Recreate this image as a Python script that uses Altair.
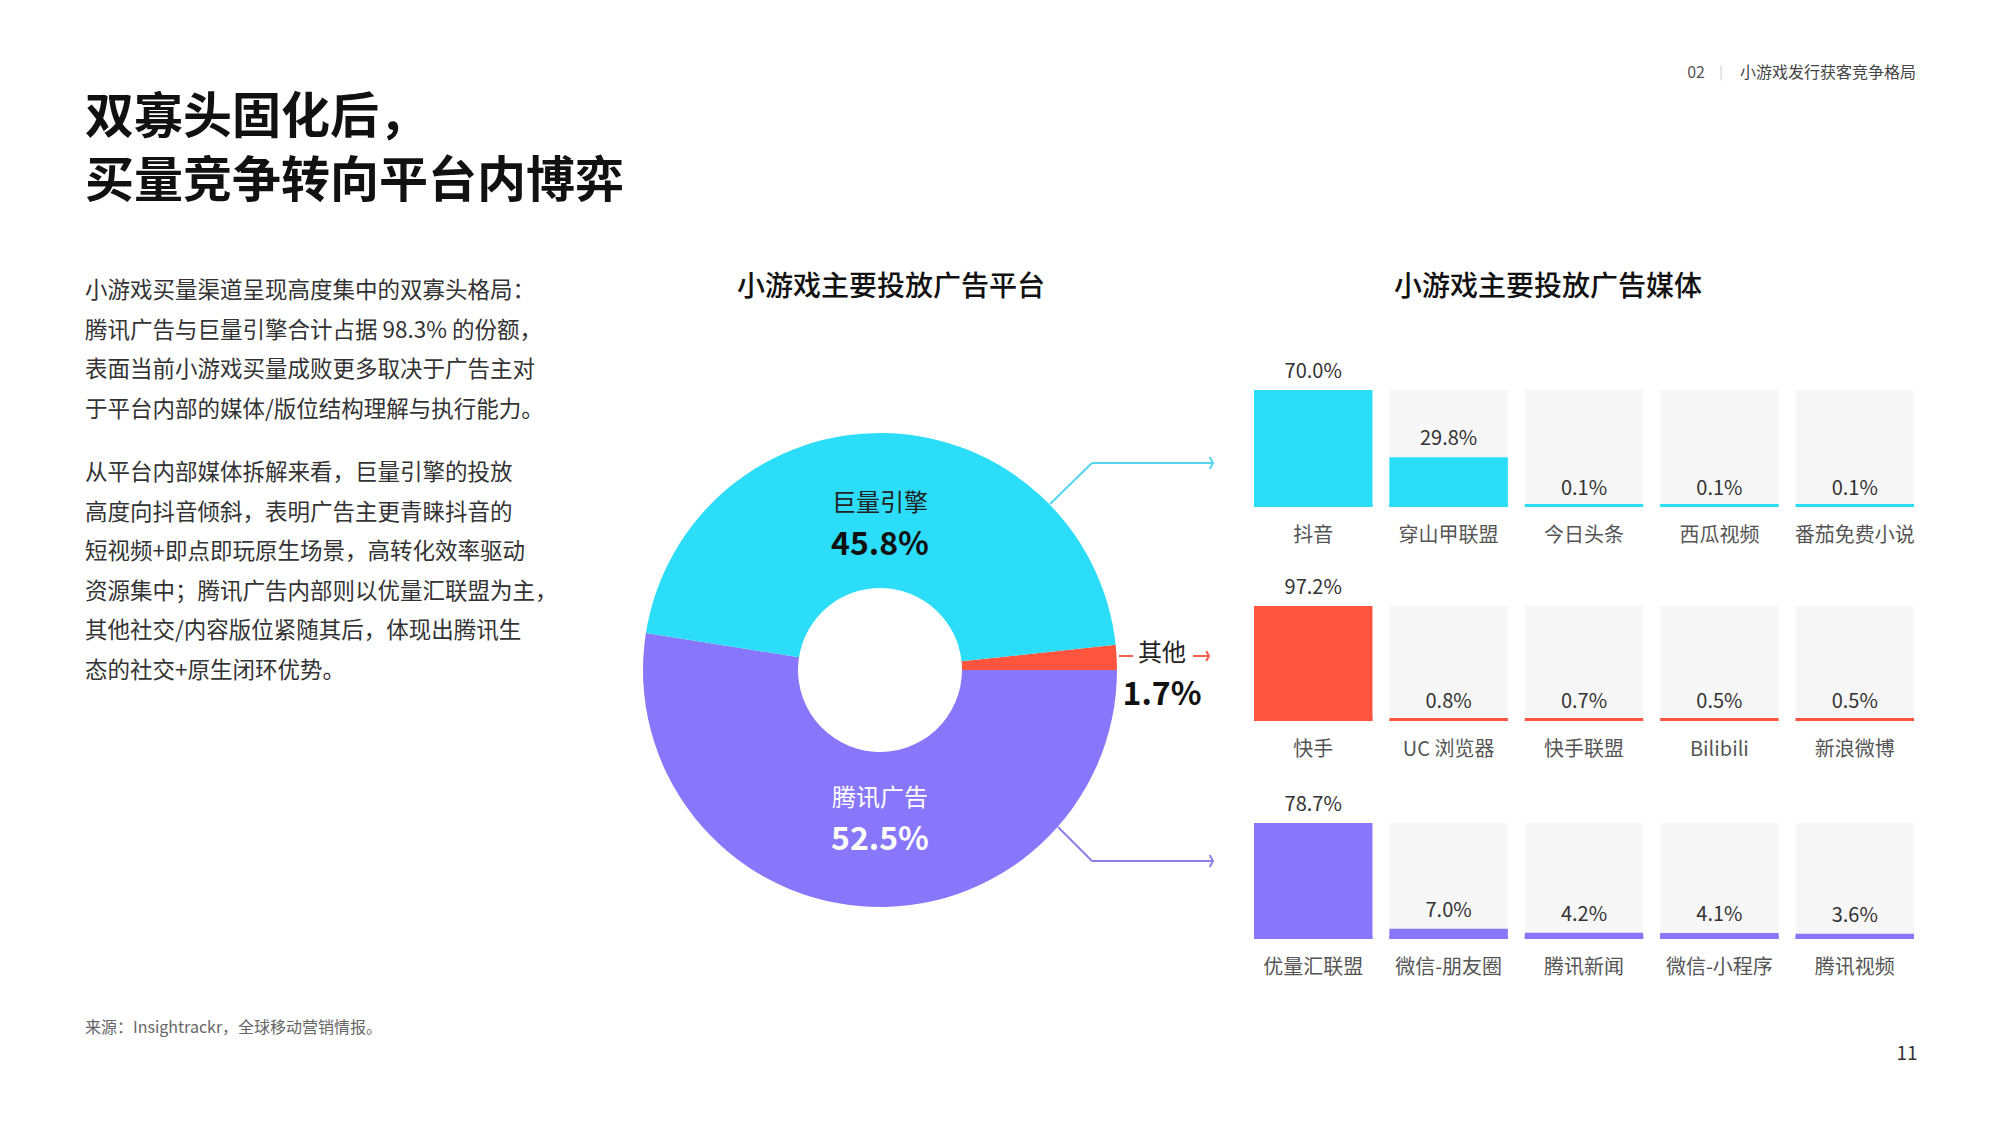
import math
import altair as alt
import pandas as pd

# ---------------- data ----------------
HEADER_NUM = "02"
HEADER_TEXT = "小游戏发行获客竞争格局"
TITLE_LINES = ["双寡头固化后，", "买量竞争转向平台内博弈"]
BODY_P1 = [
    "小游戏买量渠道呈现高度集中的双寡头格局：",
    "腾讯广告与巨量引擎合计占据 98.3% 的份额，",
    "表面当前小游戏买量成败更多取决于广告主对",
    "于平台内部的媒体/版位结构理解与执行能力。",
]
BODY_P2 = [
    "从平台内部媒体拆解来看，巨量引擎的投放",
    "高度向抖音倾斜，表明广告主更青睐抖音的",
    "短视频+即点即玩原生场景，高转化效率驱动",
    "资源集中；腾讯广告内部则以优量汇联盟为主，",
    "其他社交/内容版位紧随其后，体现出腾讯生",
    "态的社交+原生闭环优势。",
]
SOURCE = "来源：Insightrackr，全球移动营销情报。"
PAGE = "11"
PIE_TITLE = "小游戏主要投放广告平台"
BAR_TITLE = "小游戏主要投放广告媒体"

platforms = ["其他", "腾讯广告", "巨量引擎"]
platform_share = [1.7, 52.5, 45.8]

media_juliang = ["抖音", "穿山甲联盟", "今日头条", "西瓜视频", "番茄免费小说"]
share_juliang = [70.0, 29.8, 0.1, 0.1, 0.1]
media_other = ["快手", "UC 浏览器", "快手联盟", "Bilibili", "新浪微博"]
share_other = [97.2, 0.8, 0.7, 0.5, 0.5]
media_tencent = ["优量汇联盟", "微信-朋友圈", "腾讯新闻", "微信-小程序", "腾讯视频"]
share_tencent = [78.7, 7.0, 4.2, 4.1, 3.6]

# ---------------- style ----------------
FONT = "Noto Sans CJK SC"
CYAN = "#2BDDF9"
PURPLE = "#8877FB"
RED = "#FF553F"
platform_colors = [RED, PURPLE, CYAN]

one = alt.Data(values=[{"k": 1}])


def txt(x, y, text, size, color="#333333", weight="normal", align="left",
        baseline="middle", line_height=None):
    kw = dict(text=text, fontSize=size, color=color, fontWeight=weight,
              align=align, baseline=baseline, font=FONT)
    if line_height is not None:
        kw["lineHeight"] = line_height
    return alt.Chart(one).mark_text(**kw).encode(x=alt.value(x), y=alt.value(y))


def seg(x1, y1, x2, y2, color, w=2):
    return alt.Chart(one).mark_rule(color=color, strokeWidth=w).encode(
        x=alt.value(x1), y=alt.value(y1), x2=alt.value(x2), y2=alt.value(y2))


def chevron(x, y, color, size=144):
    return alt.Chart(one).mark_point(
        shape="M -0.55 -1 L 0 0 L -0.55 1", filled=False, stroke=color,
        strokeWidth=2, size=size, opacity=1).encode(x=alt.value(x), y=alt.value(y))


# ---------------- texts ----------------
texts = [
    txt(1696, 73, HEADER_NUM, 16, "#555555", align="center"),
    txt(1721, 73, "|", 13, "#C8C8C8", align="center"),
    txt(1916, 73, HEADER_TEXT, 16, "#444444", align="right"),
    txt(85, 118, TITLE_LINES, 49, "#111111", weight="bold", line_height=64),
    txt(85, 291, BODY_P1, 22.5, "#333333", line_height=39.5),
    txt(85, 473, BODY_P2, 22.5, "#333333", line_height=39.5),
    txt(85, 1028, SOURCE, 16, "#666666"),
    txt(1907, 1054, PAGE, 19, "#333333", align="center"),
    txt(891, 288, PIE_TITLE, 28, "#111111", weight=500, align="center"),
    txt(1548, 288, BAR_TITLE, 28, "#111111", weight=500, align="center"),
]

# ---------------- donut ----------------
pie_df = pd.DataFrame({"platform": platforms, "share": platform_share,
                       "ord": list(range(len(platforms)))})
total = sum(platform_share)
start = math.pi / 2 - 2 * math.pi * platform_share[0] / total
arc = alt.Chart(pie_df).mark_arc(innerRadius=82, outerRadius=237).encode(
    theta=alt.Theta("share:Q", stack=True,
                    scale=alt.Scale(domain=[0, total], range=[start, start + 2 * math.pi],
                                    nice=False, zero=True)),
    color=alt.Color("platform:N", scale=alt.Scale(domain=platforms, range=platform_colors),
                    legend=None),
    order=alt.Order("ord:Q"),
    x=alt.value(880), y=alt.value(670),
)

pie_labels = [
    txt(880, 504, platforms[2], 24, "#222222", align="center"),
    txt(880, 545, f"{platform_share[2]:.1f}%", 32, "#111111", weight="bold", align="center"),
    txt(880, 799, platforms[1], 24, "#FFFFFF", align="center"),
    txt(880, 840, f"{platform_share[1]:.1f}%", 32, "#FFFFFF", weight="bold", align="center"),
    txt(1162, 654, platforms[0], 24, "#222222", align="center"),
    txt(1162, 695, f"{platform_share[0]:.1f}%", 32, "#111111", weight="bold", align="center"),
]

connectors = [
    seg(1050, 504, 1092, 463, "#55D6EC"),
    seg(1092, 463, 1212, 463, "#55D6EC"),
    chevron(1213, 463, "#55D6EC"),
    seg(1058, 827, 1092, 861, "#8C82E6"),
    seg(1092, 861, 1212, 861, "#8C82E6"),
    chevron(1213, 861, "#8C82E6"),
    seg(1119, 656, 1133, 656, "#F0604F"),
    seg(1193, 656, 1208, 656, "#F0604F"),
    chevron(1209, 656, "#F0604F", size=100),
]

# ---------------- media bars ----------------
BAR_X0, BAR_X1 = 1254, 1914
PAD = 0.125
BAND = (BAR_X1 - BAR_X0) / (5 - PAD) * (1 - PAD)


def media_row(names, values, color, top, bottom):
    df = pd.DataFrame({"media": names, "value": values})
    base = alt.Chart(df).transform_joinaggregate(rowmax="max(value)").transform_calculate(
        label="format(datum.value, '.1f') + '%'")
    x = alt.X("media:N", sort=names, axis=None,
              scale=alt.Scale(range=[BAR_X0, BAR_X1], paddingInner=PAD, paddingOuter=0))
    ys = alt.Scale(zero=True, nice=False, range=[bottom, top])
    bg = base.mark_bar(color="#F7F7F7").encode(
        x=x, y=alt.Y("rowmax:Q", scale=ys, axis=None))
    bar = base.mark_bar(color=color).encode(
        x=x, y=alt.Y("value:Q", scale=ys, axis=None))
    tick = base.mark_tick(color=color, thickness=3, size=BAND, yOffset=-1.5,
                          opacity=1).encode(x=x, y=alt.Y(datum=0, scale=ys, axis=None))
    val = base.mark_text(dy=-18, fontSize=20, color="#333333", font=FONT).encode(
        x=x, y=alt.Y("value:Q", scale=ys, axis=None), text="label:N")
    cat = base.mark_text(dy=29, fontSize=20, color="#555555", font=FONT).encode(
        x=x, y=alt.Y(datum=0, scale=ys, axis=None), text="media:N")
    return alt.layer(bg, bar, tick, val, cat)


row1 = media_row(media_juliang, share_juliang, CYAN, 390, 507)
row2 = media_row(media_other, share_other, RED, 606, 721)
row3 = media_row(media_tencent, share_tencent, PURPLE, 823, 939)

chart = alt.layer(
    *texts, arc, *pie_labels, *connectors, row1, row2, row3
).resolve_scale(
    x="independent", y="independent"
).properties(
    width=2000, height=1125, padding=0,
    autosize=alt.AutoSizeParams(type="none"),
    background="#FFFFFF",
).configure_view(stroke=None)

chart.save("out.html", embed_options={"renderer": "svg", "actions": False})
